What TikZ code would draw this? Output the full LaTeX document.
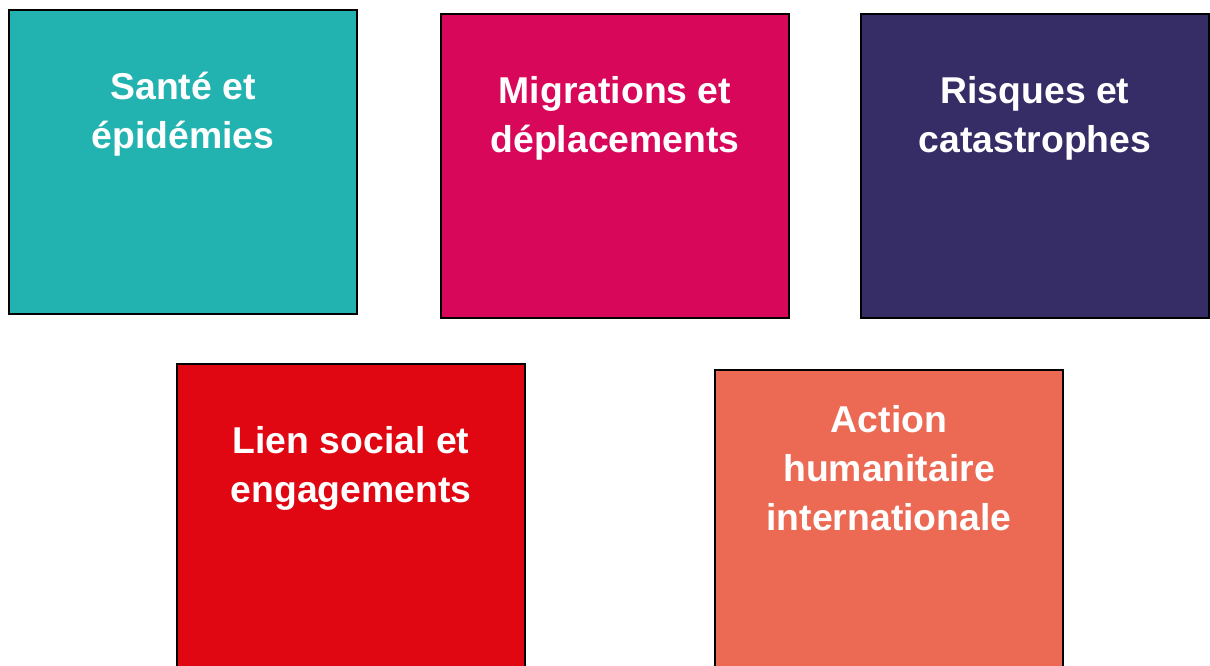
\documentclass[tikz,border=0pt]{standalone}
\usepackage{fontspec}
\setmainfont{Liberation Sans}
\usepackage{tikz}
\usetikzlibrary{positioning}
\definecolor{teal1}{HTML}{22B3B1}
\definecolor{magenta1}{HTML}{D9075A}
\definecolor{purple1}{HTML}{362C66}
\definecolor{red1}{HTML}{E00612}
\definecolor{salmon1}{HTML}{EC6A54}
\tikzstyle{theme}=[rectangle, draw=black, line width=1.5pt, minimum width=261pt, minimum height=228pt, inner sep=0pt, outer sep=0pt]
\tikzstyle{title}=[text=white, align=center, inner sep=0pt, font=\bfseries\fontsize{28}{37}\selectfont]

\begin{document}
\begin{tikzpicture}[x=0.75pt, y=-0.75pt]
		   \path[use as bounding box] (0,0) rectangle (1210,666);
		   \clip (0,0) rectangle (1210,666);
		   \begin{scope}
			   \node (sante) at (183, 162)[theme, fill=teal1] {};
			   \node (migr) at (615, 166)[theme, fill=magenta1] {};
			   \node (risques) at (1035, 166)[theme, fill=purple1] {};
			   \node (lien) at (351, 516)[theme, fill=red1] {};
			   \node (action) at (889, 522)[theme, fill=salmon1] {};
		   \end{scope}
		   \begin{scope}
			   \node (sante-t) [title, below=46.5pt of sante.north] {Santé et\\épidémies};
			   \node (migr-t) [title, below=46.5pt of migr.north] {Migrations et\\déplacements};
			   \node (risques-t) [title, below=46.5pt of risques.north] {Risques et\\catastrophes};
			   \node (lien-t) [title, below=46.5pt of lien.north] {Lien social et\\engagements};
			   \node (action-t) [title, below=26.25pt of action.north] {Action\\humanitaire\\internationale};
		   \end{scope}
	   \end{tikzpicture}
\end{document}
